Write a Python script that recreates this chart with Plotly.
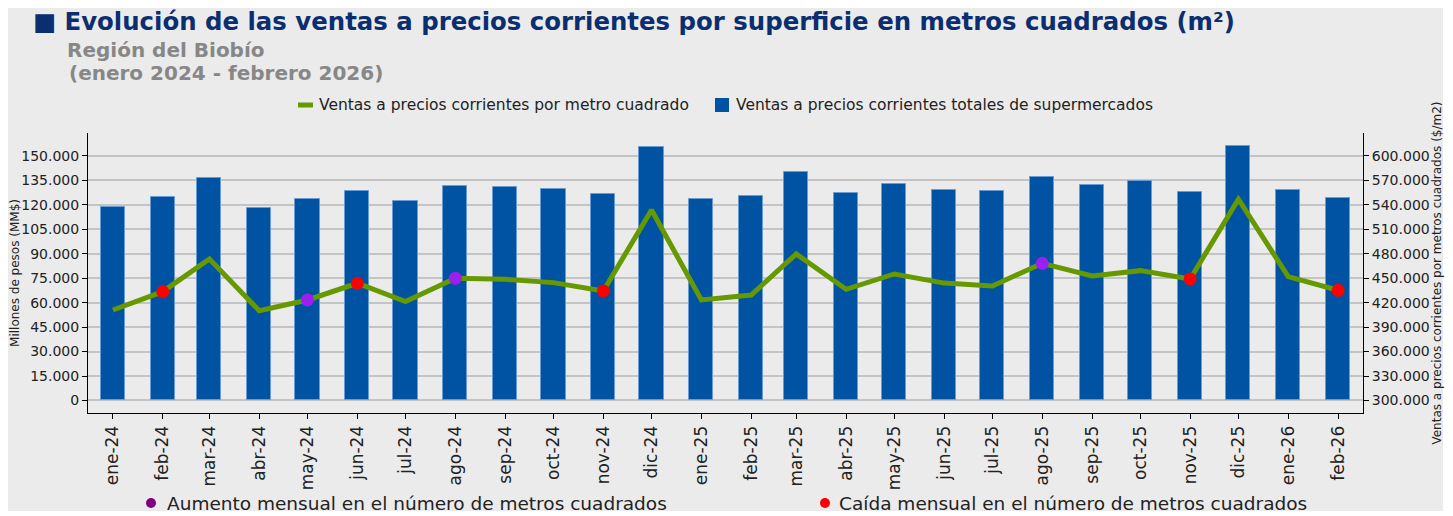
import plotly.graph_objects as go

# ---------------- data ----------------
month_labels = ["ene-24", "feb-24", "mar-24", "abr-24", "may-24", "jun-24", "jul-24", "ago-24",
                "sep-24", "oct-24", "nov-24", "dic-24", "ene-25", "feb-25", "mar-25", "abr-25",
                "may-25", "jun-25", "jul-25", "ago-25", "sep-25", "oct-25", "nov-25", "dic-25",
                "ene-26", "feb-26"]
month_dates = ["2024-01-01", "2024-02-01", "2024-03-01", "2024-04-01", "2024-05-01", "2024-06-01",
               "2024-07-01", "2024-08-01", "2024-09-01", "2024-10-01", "2024-11-01", "2024-12-01",
               "2025-01-01", "2025-02-01", "2025-03-01", "2025-04-01", "2025-05-01", "2025-06-01",
               "2025-07-01", "2025-08-01", "2025-09-01", "2025-10-01", "2025-11-01", "2025-12-01",
               "2026-01-01", "2026-02-01"]
ventas_totales = [119000, 125000, 136300, 118100, 123400, 128800, 122600, 131600,
                  131200, 130000, 126600, 155700, 123600, 125300, 140000, 127500,
                  132600, 129200, 128300, 136900, 132000, 134500, 128100, 156100,
                  128900, 124000]
ventas_m2 = [411000, 433500, 473600, 410200, 423300, 443800, 421300, 450000,
             448700, 444600, 434400, 533700, 423300, 429400, 479800, 436400,
             455200, 444000, 440500, 468300, 452800, 459300, 449100, 546900,
             451900, 435200]
aumento_meses = ["may-24", "ago-24", "ago-25"]
caida_meses = ["feb-24", "jun-24", "nov-24", "nov-25", "feb-26"]

title_text = "■ Evolución de las ventas a precios corrientes por superficie en metros cuadrados (m²)"
subtitle_1 = "Región del Biobío"
subtitle_2 = "(enero 2024 - febrero 2026)"
legend_line = "Ventas a precios corrientes por metro cuadrado"
legend_bar = "Ventas a precios corrientes totales de supermercados"
legend_up = "Aumento mensual en el número de metros cuadrados"
legend_down = "Caída mensual en el número de metros cuadrados"
y1_title = "Millones de pesos (MM$)"
y2_title = "Ventas a precios corrientes por metros cuadrados ($/m2)"

# ---------------- style ----------------
OFF = 8  # page body margin
W, H = 1453 - OFF, 516 - OFF
ML = 88 - OFF
MR = W - (1363 - OFF)
MT = 133 - OFF
MB = H - (413 - OFF)
PW, PH = W - ML - MR, H - MT - MB
BG = "#EBEBEB"
BAR = "#0052A3"
GREEN = "#669900"
RED = "#FF0000"
VIOLET = "#9B20EE"
NAVY = "#0A2E70"
GREY = "#878787"
FONT = "DejaVu Sans"


def px(x, y):
    """page pixel -> paper coords"""
    fx, fy = x - OFF, y - OFF
    return (fx - ML) / PW, (MT + PH - fy) / PH


idx = {m: i for i, m in enumerate(month_labels)}
up_x = [month_dates[idx[m]] for m in aumento_meses]
up_y = [ventas_m2[idx[m]] for m in aumento_meses]
dn_x = [month_dates[idx[m]] for m in caida_meses]
dn_y = [ventas_m2[idx[m]] for m in caida_meses]

fig = go.Figure()
fig.add_trace(go.Bar(x=month_dates, y=ventas_totales, name=legend_bar,
                     marker=dict(color=BAR, line=dict(color="#6C9BD2", width=1)),
                     width=15 * 86400000, yaxis="y", showlegend=False))
fig.add_trace(go.Scatter(x=month_dates, y=ventas_m2, name=legend_line, mode="lines",
                         line=dict(color=GREEN, width=5), yaxis="y2", showlegend=False))
fig.add_trace(go.Scatter(x=up_x, y=up_y, mode="markers", name=legend_up,
                         marker=dict(color=VIOLET, size=13), yaxis="y2", showlegend=False))
fig.add_trace(go.Scatter(x=dn_x, y=dn_y, mode="markers", name=legend_down,
                         marker=dict(color=RED, size=13), yaxis="y2", showlegend=False))

shapes = []
x0, y0 = px(8, 511)
x1, y1 = px(1443, 0)
shapes.append(dict(type="rect", xref="paper", yref="paper", x0=x0, x1=x1, y0=y0, y1=y1,
                   fillcolor=BG, line=dict(width=0), layer="below"))
# top legend symbols
a, b = px(298, 105)
c, d = px(313, 105)
shapes.append(dict(type="line", xref="paper", yref="paper", x0=a, x1=c, y0=b, y1=d,
                   line=dict(color=GREEN, width=5)))
a, b = px(715, 112)
c, d = px(729, 98)
shapes.append(dict(type="rect", xref="paper", yref="paper", x0=a, x1=c, y0=b, y1=d,
                   fillcolor=BAR, line=dict(width=0)))
# bottom legend dots
for cx, col in [(151, "#800080"), (825, RED)]:
    a, b = px(cx - 5, 508)
    c, d = px(cx + 5, 498)
    shapes.append(dict(type="circle", xref="paper", yref="paper", x0=a, x1=c, y0=b, y1=d,
                       fillcolor=col, line=dict(width=0)))

annotations = []


def ann(text, x, y, size, color, bold=False, anchor="left"):
    ax, ay = px(x, y)
    annotations.append(dict(text=f"<b>{text}</b>" if bold else text, x=ax, y=ay,
                            xref="paper", yref="paper", xanchor=anchor, yanchor="middle",
                            showarrow=False, font=dict(family=FONT, size=size, color=color)))


ann(title_text, 31, 21, 24.4, NAVY, bold=True)
ann(subtitle_1, 65, 50, 20, GREY, bold=True)
ann(subtitle_2, 67, 73, 20, GREY, bold=True)
ann(legend_line, 317, 105, 15.5, "#222222")
ann(legend_bar, 734, 105, 15.5, "#222222")
ann(legend_up, 165, 503, 18.5, "#222222")
ann(legend_down, 837, 503, 18.5, "#222222")

fig.update_layout(
    width=W, height=H, autosize=False,
    margin=dict(l=ML, r=MR, t=MT, b=MB, pad=0, autoexpand=False),
    paper_bgcolor="white", plot_bgcolor=BG,
    separators=",.",
    font=dict(family=FONT, color="#222222"),
    bargap=0,
    shapes=shapes, annotations=annotations,
    xaxis=dict(type="date", range=["2023-12-16 12:00", "2026-02-16 12:00"],
               tickmode="array", tickvals=month_dates, ticktext=month_labels,
               tickangle=-90, tickfont=dict(size=17, color="#222222"),
               ticks="outside", ticklen=5, tickcolor="black", automargin=False,
               showline=True, linecolor="black", linewidth=1, showgrid=False, zeroline=False),
    yaxis=dict(range=[-7700, 164100], tick0=0, dtick=15000, tickformat=",d",
               tickfont=dict(size=14, color="#222222"), automargin=False,
               ticks="outside", ticklen=5, tickcolor="black",
               showline=True, linecolor="black", linewidth=1,
               showgrid=True, gridcolor="#C4C4C4", gridwidth=1.5, zeroline=False,
               title=dict(text=y1_title, font=dict(size=12, color="#222222"), standoff=1)),
    yaxis2=dict(range=[284600, 628200], tick0=0, dtick=30000, tickformat=",d",
                overlaying="y", side="right", automargin=False,
                tickfont=dict(size=14, color="#222222"),
                ticks="outside", ticklen=5, tickcolor="black",
                showline=True, linecolor="black", linewidth=1,
                showgrid=False, zeroline=False,
                title=dict(text=y2_title, font=dict(size=12, color="#222222"), standoff=3)),
)

fig.write_html("out.html")
